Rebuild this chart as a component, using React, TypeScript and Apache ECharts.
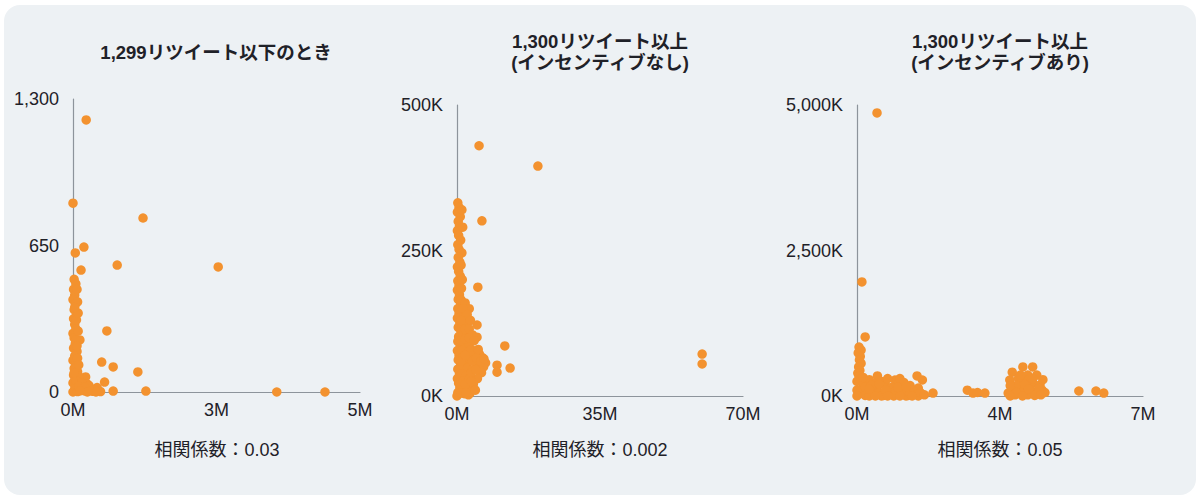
import React, { useEffect, useRef } from "react";
import * as echarts from "echarts";

// Chart 1: retweets <= 1,299 — x: followers (M), y: count
const lowPoints: number[][] = [
  [0.23, 1207], [0.0, 838], [1.22, 772], [0.19, 643], [0.04, 617], [0.77, 563], [2.53, 555],
  [0.14, 541], [0.59, 271], [0.5, 133], [0.7, 111], [1.13, 89], [0.55, 44], [0.7, 4], [1.27, 4],
  [3.55, 0], [4.39, 0],
  [0.02, 500], [0.05, 480], [0.01, 455], [0.03, 430], [0.0, 410], [0.04, 390], [0.02, 365],
  [0.06, 345], [0.01, 325], [0.03, 300], [0.05, 280], [0.0, 260], [0.02, 240], [0.12, 231],
  [0.04, 215], [0.01, 195], [0.07, 180], [0.03, 160], [0.0, 140], [0.05, 125], [0.02, 105],
  [0.08, 90], [0.01, 75], [0.04, 60], [0.22, 67], [0.0, 40], [0.06, 30], [0.03, 15], [0.0, 0],
  [0.1, 10], [0.15, 25], [0.2, 5], [0.25, 35], [0.3, 12], [0.35, 3], [0.42, 20], [0.48, 2],
  [0.12, 45], [0.18, 15], [0.08, 2], [0.28, 28], [0.38, 8],
  [0.08, 400], [0.06, 320], [0.09, 270], [0.05, 230], [0.08, 150], [0.1, 120], [0.1, 70],
  [0.06, 50], [0.15, 40], [0.1, 25], [0.2, 20], [0.3, 5], [0.4, 0], [0.25, 0], [0.12, 5],
  [0.07, 455], [0.09, 350], [0.03, 375], [0.07, 205], [0.02, 85],
];

// Chart 2: retweets >= 1,300, no incentive — x: M, y: K
const noIncentivePoints: number[][] = [
  [5.4, 430], [19.8, 395], [6.1, 301], [5.1, 187], [4.9, 122], [4.9, 101], [11.7, 86],
  [9.8, 53], [9.8, 41], [13.0, 48], [60.0, 72], [60.0, 55], [3.2, 5],
  [0.2, 332], [0.5, 324], [0.1, 316], [0.8, 308], [0.3, 300], [0.6, 292], [0.1, 284],
  [0.4, 276], [0.9, 268], [0.2, 260], [0.5, 252], [1.2, 246], [0.3, 238], [0.7, 230],
  [0.1, 222], [0.4, 214], [0.8, 206], [0.2, 198], [0.5, 190], [0.1, 182], [0.6, 174],
  [0.3, 166], [0.9, 158], [0.2, 150], [0.5, 142], [0.1, 134], [0.7, 126], [0.3, 118],
  [1.0, 110], [0.4, 102], [0.2, 94], [0.8, 86], [0.1, 78], [0.5, 70], [0.3, 62], [0.9, 54],
  [0.2, 46], [0.6, 38], [0.1, 30], [0.4, 22], [0.7, 14], [0.2, 6], [0.0, 0],
  [1.5, 105], [2.5, 108], [1.8, 95], [2.2, 85], [3.0, 90], [1.2, 78], [2.8, 75], [3.5, 80],
  [4.0, 70], [1.6, 68], [5.5, 72], [6.2, 66], [2.4, 60], [3.2, 62], [4.5, 58], [5.5, 55],
  [6.5, 50], [7.0, 57], [1.4, 52], [2.6, 48], [3.8, 45], [5.0, 46], [6.0, 40], [1.1, 38],
  [2.2, 35], [3.4, 32], [4.4, 28], [1.6, 26], [2.9, 22], [1.2, 15], [2.4, 12], [3.6, 14],
  [1.8, 4], [2.8, 2], [1.3, 120], [2.0, 125], [1.8, 140], [1.4, 160], [1.1, 185], [4.0, 20],
  [5.0, 30],
  [1.0, 165], [2.0, 160], [3.0, 150], [1.5, 150], [2.5, 140], [3.3, 130], [1.0, 130],
  [2.0, 115], [3.0, 115], [3.8, 105], [1.0, 95], [2.0, 98], [3.0, 100], [4.2, 95], [1.0, 60],
  [2.0, 70], [3.8, 60], [4.8, 65], [0.8, 20], [2.0, 20], [3.0, 30], [1.0, 5], [2.2, 6],
  [3.5, 40], [4.6, 45], [5.8, 60], [6.6, 64], [5.2, 80], [3.5, 25], [4.5, 10], [1.3, 200],
  [1.0, 225], [1.4, 290], [1.2, 320],
];

// Chart 3: retweets >= 1,300, with incentive — x: M, y: K
const incentivePoints: number[][] = [
  [0.49, 4863], [0.12, 1960], [0.2, 1014],
  [0.05, 840], [0.1, 790], [0.03, 740], [0.08, 680], [0.06, 620], [0.1, 560], [0.04, 500],
  [0.07, 440], [0.02, 395], [0.05, 340], [0.1, 300],
  [0.0, 250], [0.15, 200], [0.3, 280], [0.5, 345], [0.45, 150], [0.25, 100], [0.1, 50],
  [0.35, 30], [0.6, 250], [0.7, 180], [0.8, 90], [0.93, 275], [1.0, 200], [1.1, 120],
  [0.9, 30], [1.2, 60], [1.3, 180], [1.47, 345], [1.6, 275], [1.5, 137], [1.4, 40],
  [1.25, 10], [0.55, 60], [0.65, 10], [0.2, 10], [0.0, 100], [0.75, 300], [1.05, 300],
  [1.15, 230], [0.4, 220], [0.85, 150], [1.35, 100], [0.0, 0], [0.3, 0], [0.6, 0], [0.9, 0],
  [1.2, 0], [1.5, 0], [1.86, 50],
  [0.2, 150], [0.35, 180], [0.55, 200], [0.7, 100], [0.95, 100], [1.1, 50], [1.3, 50],
  [1.55, 60], [0.45, 0], [0.75, 0], [1.05, 0], [1.35, 0], [1.65, 20], [0.15, 320], [0.3, 120],
  [1.0, 150], [1.2, 160],
  [2.7, 100], [2.84, 50], [2.95, 60], [3.13, 50],
  [4.06, 500], [4.3, 500], [3.8, 410], [4.18, 360], [4.4, 360], [3.74, 275], [4.04, 240],
  [4.3, 220], [4.48, 190], [3.8, 100], [4.1, 137], [4.28, 86], [4.53, 100], [3.87, 20],
  [4.18, 20], [3.95, 300], [4.2, 280], [4.0, 60], [4.4, 40], [3.7, 50], [4.6, 60],
  [3.9, 180], [4.1, 200], [4.2, 120], [4.45, 130], [3.75, 180], [4.0, 360], [4.3, 300],
  [4.55, 280], [3.9, 60], [4.35, 10], [4.5, 20], [4.05, 0], [3.75, 0],
  [5.43, 86], [5.85, 86], [6.04, 50],
];

const titles = [
  "1,299リツイート以下のとき",
  "1,300リツイート以上\n(インセンティブなし)",
  "1,300リツイート以上\n(インセンティブあり)",
];
const correlations = ["相関係数：0.03", "相関係数：0.002", "相関係数：0.05"];
const xMax = [5, 70, 7];
const yMax = [1300, 500, 5000];
const ySuffix = ["", "K", "K"];

const FONT = '"Liberation Sans", Arial, "Noto Sans CJK JP", sans-serif';
const DOT = "#F3922F";
const AXIS = "#8d949b";
const TEXT = "#1f2128";

const fmtNum = (v: number) => Math.round(v).toLocaleString("en-US");

export default function App() {
  const ref = useRef<HTMLDivElement>(null);
  useEffect(() => {
    if (!ref.current) return;
    const chart = echarts.init(ref.current, null, { renderer: "svg" });
    const grids = [
      { left: 73, top: 99, width: 287, height: 293 },
      { left: 457, top: 105, width: 286, height: 291 },
      { left: 857, top: 105, width: 286, height: 291 },
    ];
    const centers = [216, 600, 1000];
    const allData = [lowPoints, noIncentivePoints, incentivePoints];

    const xAxis = grids.map((_, i) => ({
      type: "value",
      gridIndex: i,
      min: 0,
      max: xMax[i],
      interval: xMax[i] / 2,
      axisLine: { show: true, lineStyle: { color: AXIS, width: 1.2 } },
      axisTick: { show: false },
      splitLine: { show: false },
      axisLabel: {
        color: TEXT,
        fontSize: 18,
        fontFamily: FONT,
        margin: 9,
        formatter: (v: number) => Math.round(v) + "M",
      },
    }));
    const yAxis = grids.map((_, i) => ({
      type: "value",
      gridIndex: i,
      min: 0,
      max: yMax[i],
      interval: yMax[i] / 2,
      axisLine: { show: true, lineStyle: { color: AXIS, width: 1.2 } },
      axisTick: { show: false },
      splitLine: { show: false },
      axisLabel: {
        color: TEXT,
        fontSize: 18,
        fontFamily: FONT,
        margin: 14,
        formatter: (v: number) => fmtNum(v) + ySuffix[i],
      },
    }));

    const graphic: any[] = [
      {
        type: "rect",
        shape: { x: 4, y: 5, width: 1192, height: 490, r: 16 },
        style: { fill: "#edf1f4" },
        z: -10,
      },
    ];
    titles.forEach((t, i) => {
      graphic.push({
        type: "text",
        x: centers[i],
        y: i === 0 ? 52 : 51.5,
        style: {
          text: t,
          fontSize: 18.5,
          fontWeight: "bold",
          fontFamily: FONT,
          fill: TEXT,
          align: "center",
          verticalAlign: "middle",
          lineHeight: 21,
        },
      });
    });
    correlations.forEach((t, i) => {
      graphic.push({
        type: "text",
        x: centers[i] + (i === 0 ? 1 : 0),
        y: 450,
        style: {
          text: t,
          fontSize: 18,
          fontFamily: FONT,
          fill: TEXT,
          align: "center",
          verticalAlign: "middle",
        },
      });
    });

    chart.setOption({
      animation: false,
      backgroundColor: "#ffffff",
      grid: grids,
      xAxis,
      yAxis,
      graphic,
      series: allData.map((d, i) => ({
        type: "scatter",
        xAxisIndex: i,
        yAxisIndex: i,
        data: d,
        symbolSize: 9.5,
        clip: false,
        itemStyle: { color: DOT, opacity: 1 },
      })),
    });
    return () => chart.dispose();
  }, []);
  return (
    <div
      ref={ref}
      style={{ position: "absolute", left: 0, top: 0, width: 1200, height: 497 }}
    />
  );
}
